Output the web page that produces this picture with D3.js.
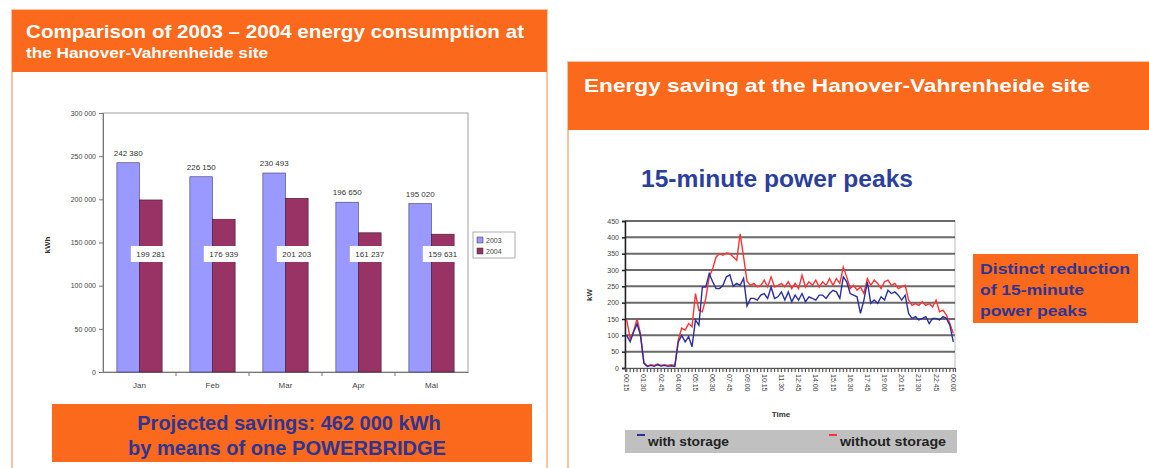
<!DOCTYPE html>
<html>
<head>
<meta charset="utf-8">
<script src="https://cdn.jsdelivr.net/npm/d3@7"></script>
<style>
  body { margin: 0; background: #fff; }
  svg { display: block; font-family: "Liberation Sans", Arial, sans-serif; }
</style>
</head>
<body>
<script>
// bar chart data
let months = ['Jan', 'Feb', 'Mar', 'Apr', 'Mai']
let years = ['2003', '2004']
let values2003 = [242380, 226150, 230493, 196650, 195020]
let values2004 = [199281, 176939, 201203, 161237, 159631]
let barTicks = [0, 50000, 100000, 150000, 200000, 250000, 300000]

// line chart data (15 min values, kW)
let timeTicks = ['00:15', '01:30', '02:45', '04:00', '05:15', '06:30', '07:45', '09:00', '10:15', '11:30',
  '12:45', '14:00', '15:15', '16:30', '17:45', '19:00', '20:15', '21:30', '22:45', '00:00']
let withStorage = [100, 80, 110, 135, 100, 15, 5, 8, 5, 10, 6, 8, 5, 7, 5, 80,
  100, 80, 96, 65, 147, 131, 248, 248, 289, 264, 243, 243, 253, 279, 285, 250,
  259, 253, 274, 190, 213, 213, 208, 223, 228, 213, 248, 213, 218, 233, 208, 233,
  203, 223, 208, 228, 203, 218, 213, 208, 223, 223, 213, 228, 238, 233, 213, 279,
  264, 228, 223, 218, 167, 208, 264, 198, 208, 198, 218, 208, 238, 228, 233, 223,
  208, 223, 167, 152, 157, 147, 152, 157, 136, 152, 152, 147, 157, 152, 131, 80]
let withoutStorage = [147, 90, 112, 150, 105, 15, 6, 10, 8, 12, 8, 10, 8, 10, 8, 86,
  122, 116, 136, 126, 228, 177, 172, 213, 279, 304, 340, 350, 345, 352, 350, 340,
  330, 411, 340, 265, 253, 259, 248, 253, 269, 248, 279, 248, 253, 259, 248, 264,
  243, 259, 243, 284, 248, 264, 253, 269, 248, 264, 253, 274, 253, 274, 259, 309,
  279, 243, 253, 238, 248, 228, 274, 253, 269, 259, 243, 264, 269, 253, 259, 243,
  248, 253, 208, 192, 197, 192, 203, 192, 197, 187, 208, 172, 177, 162, 136, 106]
let powerTicks = [0, 50, 100, 150, 200, 250, 300, 350, 400, 450]

let orange = '#fb6a1c'
let navy = '#2e3592'
let fmt = d => d3.format(',')(d).replace(/,/g, ' ')

let svg = d3.select('body').append('svg')
  .attr('width', 1149)
  .attr('height', 468)

// ---------- left panel ----------
svg.append('rect')
  .attr('x', 12).attr('y', 10).attr('width', 535).attr('height', 470)
  .attr('fill', '#fff').attr('stroke', '#f6c4a2').attr('stroke-width', 2)
svg.append('rect')
  .attr('x', 12).attr('y', 10).attr('width', 535).attr('height', 62)
  .attr('fill', orange)
svg.append('text')
  .attr('x', 26).attr('y', 38)
  .attr('fill', '#fff').attr('font-size', 19).attr('font-weight', 'bold')
  .attr('textLength', 498).attr('lengthAdjust', 'spacingAndGlyphs')
  .text('Comparison of 2003 – 2004 energy consumption at')
svg.append('text')
  .attr('x', 26).attr('y', 58)
  .attr('fill', '#fff').attr('font-size', 14).attr('font-weight', 'bold')
  .attr('textLength', 242).attr('lengthAdjust', 'spacingAndGlyphs')
  .text('the Hanover-Vahrenheide site')

let bx = d3.scaleBand().domain(months).range([103, 468]).paddingInner(0.38).paddingOuter(0.19)
let bs = d3.scaleBand().domain(years).range([0, bx.bandwidth()])
let by = d3.scaleLinear().domain([0, 300000]).range([372, 113])

svg.append('rect')
  .attr('x', 103).attr('y', 113).attr('width', 365).attr('height', 259)
  .attr('fill', 'none').attr('stroke', '#a0a0a0').attr('stroke-width', 1)

let barAxisY = svg.append('g')
  .attr('transform', 'translate(103,0)')
  .call(d3.axisLeft(by).tickValues(barTicks).tickFormat(fmt).tickSize(4))
barAxisY.selectAll('text').attr('font-size', 7).attr('fill', '#444')
barAxisY.selectAll('line, path').attr('stroke', '#777')

let barAxisX = svg.append('g')
  .attr('transform', 'translate(0,372)')
  .call(d3.axisBottom(bx).tickSize(0).tickPadding(10))
barAxisX.selectAll('text').attr('font-size', 8).attr('fill', '#444')
barAxisX.select('path').attr('stroke', '#777')
svg.selectAll('.sep').data(d3.range(1, months.length)).enter().append('line')
  .attr('x1', d => 103 + d * bx.step()).attr('x2', d => 103 + d * bx.step())
  .attr('y1', 372).attr('y2', 376).attr('stroke', '#777')

svg.append('text')
  .attr('transform', 'translate(50,245) rotate(-90)')
  .attr('text-anchor', 'middle').attr('font-size', 8).attr('font-weight', 'bold').attr('fill', '#333')
  .text('kWh')

let groups = svg.selectAll('.month').data(months).enter().append('g')
  .attr('transform', d => 'translate(' + bx(d) + ',0)')

groups.append('rect')
  .attr('x', bs('2003')).attr('width', bs.bandwidth())
  .attr('y', (d, i) => by(values2003[i]))
  .attr('height', (d, i) => by(0) - by(values2003[i]))
  .attr('fill', '#9999ff').attr('stroke', '#3b3b6b').attr('stroke-width', 0.6)
groups.append('rect')
  .attr('x', bs('2004')).attr('width', bs.bandwidth())
  .attr('y', (d, i) => by(values2004[i]))
  .attr('height', (d, i) => by(0) - by(values2004[i]))
  .attr('fill', '#993366').attr('stroke', '#3b1a28').attr('stroke-width', 0.6)

groups.append('text')
  .attr('x', bs('2003') + bs.bandwidth() / 2)
  .attr('y', (d, i) => by(values2003[i]) - 7)
  .attr('text-anchor', 'middle').attr('font-size', 8).attr('fill', '#333')
  .text((d, i) => fmt(values2003[i]))

groups.append('rect')
  .attr('x', bs('2004') + bs.bandwidth() / 2 - 20)
  .attr('y', 246).attr('width', 40).attr('height', 16)
  .attr('fill', '#fff')
groups.append('text')
  .attr('x', bs('2004') + bs.bandwidth() / 2)
  .attr('y', 257)
  .attr('text-anchor', 'middle').attr('font-size', 8).attr('fill', '#333')
  .text((d, i) => fmt(values2004[i]))

let barLegend = svg.append('g').attr('transform', 'translate(473,232)')
barLegend.append('rect')
  .attr('width', 42).attr('height', 26)
  .attr('fill', '#fff').attr('stroke', '#999').attr('stroke-width', 0.8)
barLegend.selectAll('.sw').data(years).enter().append('rect')
  .attr('x', 4).attr('y', (d, i) => 5 + i * 11).attr('width', 6).attr('height', 6)
  .attr('fill', (d, i) => i === 0 ? '#9999ff' : '#993366')
  .attr('stroke', '#333').attr('stroke-width', 0.5)
barLegend.selectAll('.lt').data(years).enter().append('text')
  .attr('x', 13).attr('y', (d, i) => 11 + i * 11)
  .attr('font-size', 7).attr('fill', '#444')
  .text(d => d)

svg.append('rect')
  .attr('x', 52).attr('y', 404).attr('width', 480).attr('height', 58)
  .attr('fill', orange)
svg.append('text')
  .attr('x', 289).attr('y', 430)
  .attr('text-anchor', 'middle').attr('font-size', 20).attr('font-weight', 'bold').attr('fill', navy)
  .text('Projected savings: 462 000 kWh')
svg.append('text')
  .attr('x', 287).attr('y', 455)
  .attr('text-anchor', 'middle').attr('font-size', 20).attr('font-weight', 'bold').attr('fill', navy)
  .attr('textLength', 318).attr('lengthAdjust', 'spacingAndGlyphs')
  .text('by means of one POWERBRIDGE')

// ---------- right panel ----------
svg.append('rect')
  .attr('x', 568).attr('y', 62).attr('width', 590).attr('height', 420)
  .attr('fill', '#fff').attr('stroke', '#f6c4a2').attr('stroke-width', 2)
svg.append('rect')
  .attr('x', 568).attr('y', 62).attr('width', 590).attr('height', 68)
  .attr('fill', orange)
svg.append('text')
  .attr('x', 584).attr('y', 92)
  .attr('fill', '#fff').attr('font-size', 19).attr('font-weight', 'bold')
  .attr('textLength', 506).attr('lengthAdjust', 'spacingAndGlyphs')
  .text('Energy saving at the Hanover-Vahrenheide site')

svg.append('text')
  .attr('x', 641).attr('y', 187)
  .attr('fill', '#2b3f9e').attr('font-size', 24).attr('font-weight', 'bold')
  .attr('textLength', 272).attr('lengthAdjust', 'spacingAndGlyphs')
  .text('15-minute power peaks')

let lx = d3.scaleBand().domain(d3.range(withStorage.length)).range([625, 955])
let ly = d3.scaleLinear().domain([0, 450]).range([368, 221])
let cx = i => lx(i) + lx.bandwidth() / 2

svg.append('rect')
  .attr('x', 625).attr('y', 221).attr('width', 330).attr('height', 147)
  .attr('fill', '#fff').attr('stroke', '#bbb').attr('stroke-width', 1)
svg.selectAll('.grid').data(powerTicks.slice(1)).enter().append('line')
  .attr('x1', 625).attr('x2', 955)
  .attr('y1', d => ly(d)).attr('y2', d => ly(d))
  .attr('stroke', '#6a6a6a').attr('stroke-width', 2)

let lineAxisY = svg.append('g')
  .attr('transform', 'translate(625,0)')
  .call(d3.axisLeft(ly).tickValues(powerTicks).tickSize(3))
lineAxisY.selectAll('text').attr('font-size', 7).attr('fill', '#444')
lineAxisY.selectAll('line, path').attr('stroke', '#222').attr('stroke-width', 1.5)

let labelIdx = d3.range(0, withStorage.length, 5)
let lineAxisX = svg.append('g')
  .attr('transform', 'translate(0,368)')
  .call(d3.axisBottom(lx).tickSize(4)
    .tickFormat(i => labelIdx.includes(i) ? timeTicks[labelIdx.indexOf(i)] : ''))
lineAxisX.selectAll('line, path').attr('stroke', '#555').attr('stroke-width', 1.2)
lineAxisX.selectAll('text')
  .attr('font-size', 7).attr('fill', '#444')
  .attr('text-anchor', 'start')
  .attr('transform', 'rotate(90)')
  .attr('x', 6).attr('y', 0).attr('dy', '0.35em')

svg.append('text')
  .attr('transform', 'translate(592,295) rotate(-90)')
  .attr('text-anchor', 'middle').attr('font-size', 8).attr('font-weight', 'bold').attr('fill', '#333')
  .text('kW')
svg.append('text')
  .attr('x', 781).attr('y', 417)
  .attr('text-anchor', 'middle').attr('font-size', 8).attr('font-weight', 'bold').attr('fill', '#333')
  .text('Time')

let line = d3.line().x((d, i) => cx(i)).y(d => ly(d))
svg.append('path').datum(withoutStorage)
  .attr('d', line).attr('fill', 'none').attr('stroke', '#ff3333').attr('stroke-width', 1.4)
svg.append('path').datum(withStorage)
  .attr('d', line).attr('fill', 'none').attr('stroke', '#2a2fa0').attr('stroke-width', 1.4)

let lineLegend = svg.append('g').attr('transform', 'translate(625,430)')
lineLegend.append('rect')
  .attr('width', 332).attr('height', 23).attr('fill', '#c0c0c0')
let legendItems = [
  { name: 'with storage', color: '#2a2fa0', x: 12, w: 81 },
  { name: 'without storage', color: '#ff3333', x: 204, w: 106 }
]
lineLegend.selectAll('.lm').data(legendItems).enter().append('line')
  .attr('x1', d => d.x).attr('x2', d => d.x + 8)
  .attr('y1', 5).attr('y2', 5)
  .attr('stroke', d => d.color).attr('stroke-width', 2)
lineLegend.selectAll('.lt').data(legendItems).enter().append('text')
  .attr('x', d => d.x + 11).attr('y', 16)
  .attr('font-size', 13.5).attr('font-weight', 'bold').attr('fill', '#222')
  .attr('textLength', d => d.w).attr('lengthAdjust', 'spacingAndGlyphs')
  .text(d => d.name)

svg.append('rect')
  .attr('x', 973).attr('y', 254).attr('width', 165).attr('height', 69)
  .attr('fill', orange)
svg.selectAll('.call').data(['Distinct reduction', 'of 15-minute', 'power peaks']).enter().append('text')
  .attr('x', 980).attr('y', (d, i) => 274 + i * 21)
  .attr('font-size', 15.5).attr('font-weight', 'bold').attr('fill', navy)
  .attr('textLength', (d, i) => [150, 104, 107][i]).attr('lengthAdjust', 'spacingAndGlyphs')
  .text(d => d)
</script>
</body>
</html>
